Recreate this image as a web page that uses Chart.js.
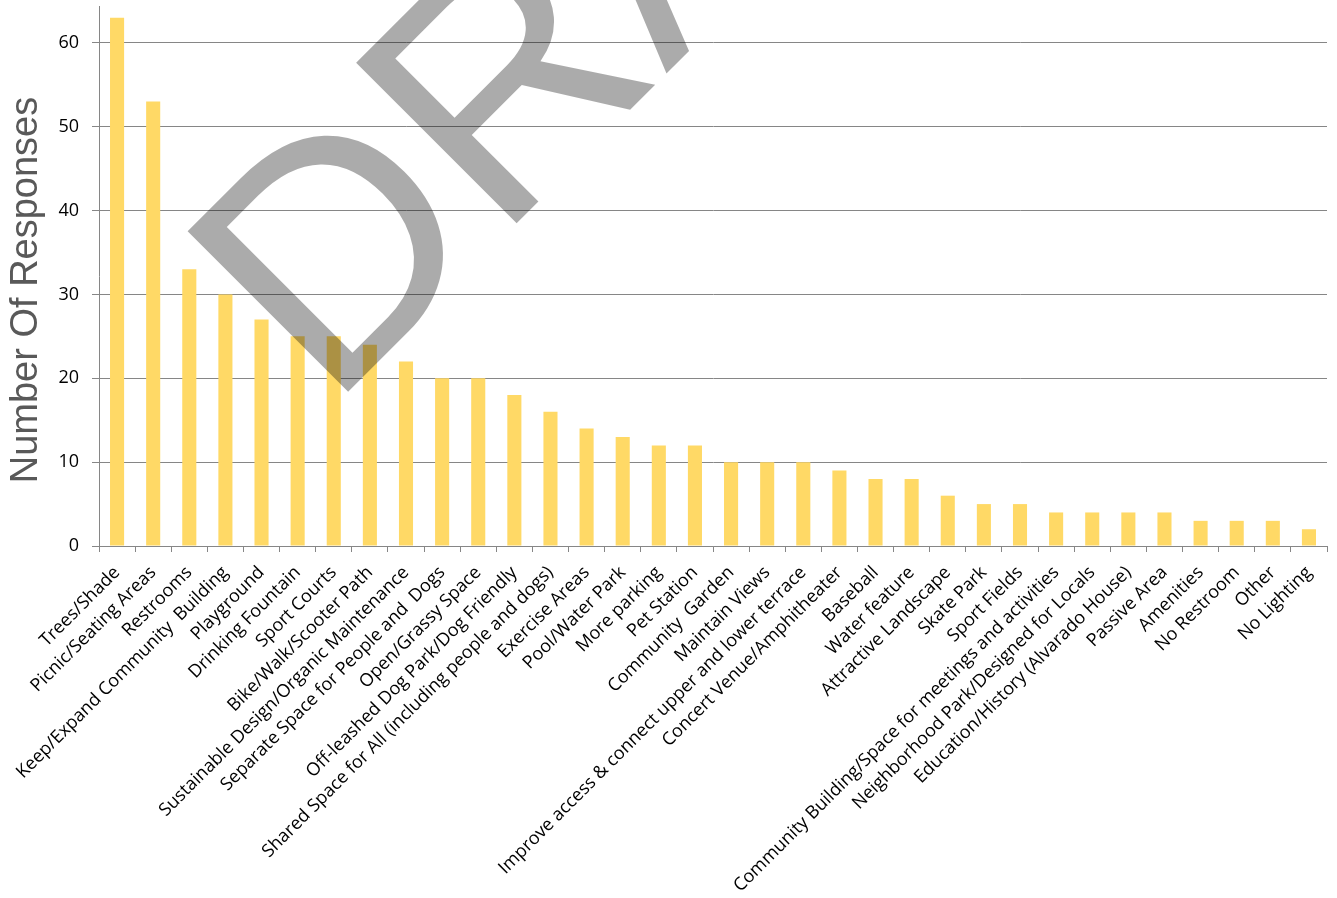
<!DOCTYPE html>
<html>
<head>
<meta charset="utf-8">
<title>Number Of Responses</title>
<script src="https://cdn.jsdelivr.net/npm/chart.js@4.4.1/dist/chart.umd.min.js"></script>
<style>
    body { margin: 0; background: #fff; }
    #wrap { width: 1337px; height: 898px; }
</style>
</head>
<body>
<div id="wrap"><canvas id="responseChart"></canvas></div>
<script>
// Survey categories, in ranked order
const categories = [
    'Trees/Shade',
    'Picnic/Seating Areas',
    'Restrooms',
    'Keep/Expand Community  Building',
    'Playground',
    'Drinking Fountain',
    'Sport Courts',
    'Bike/Walk/Scooter Path',
    'Sustainable Design/Organic Maintenance',
    'Separate Space for People and  Dogs',
    'Open/Grassy Space',
    'Off-leashed Dog Park/Dog Friendly',
    'Shared Space for All (including people and dogs)',
    'Exercise Areas',
    'Pool/Water Park',
    'More parking',
    'Pet Station',
    'Community  Garden',
    'Maintain Views',
    'Improve access & connect upper and lower terrace',
    'Concert Venue/Amphitheater',
    'Baseball',
    'Water feature',
    'Attractive Landscape',
    'Skate Park',
    'Sport Fields',
    'Community Building/Space for meetings and activities',
    'Neighborhood Park/Designed for Locals',
    'Education/History (Alvarado House)',
    'Passive Area',
    'Amenities',
    'No Restroom',
    'Other',
    'No Lighting'
];

// Number of responses per category
const responses = [63, 53, 33, 30, 27, 25, 25, 24, 22, 20, 20, 18, 16, 14, 13, 12, 12,
    10, 10, 10, 9, 8, 8, 6, 5, 5, 4, 4, 4, 4, 3, 3, 3, 2];

// Y axis ticks
const yTicks = [0, 10, 20, 30, 40, 50, 60];
const yMax = 64.4;
const yTitle = 'Number Of Responses';

const axisGrey = '#868686';

// Y axis title, sitting a little below the middle of the plot
const yAxisTitle = {
    id: 'yAxisTitle',
    afterDraw(chart) {
        const ctx = chart.ctx;
        const area = chart.chartArea;
        ctx.save();
        ctx.translate(27, (area.top + area.bottom) / 2 + 14);
        ctx.rotate(-Math.PI / 2);
        ctx.font = '38px "Liberation Sans", Arial, sans-serif';
        ctx.fillStyle = '#595959';
        ctx.textAlign = 'center';
        ctx.textBaseline = 'middle';
        ctx.fillText(yTitle, 0, 0);
        ctx.restore();
    }
};

// Big translucent "DRAFT" stamp drawn over the finished chart
const draftStamp = {
    id: 'draftStamp',
    afterDraw(chart) {
        const ctx = chart.ctx;
        ctx.save();
        ctx.translate(329, 411);
        ctx.rotate(-Math.PI / 4);
        ctx.font = '330px "Liberation Sans", Arial, sans-serif';
        ctx.fillStyle = 'rgba(0, 0, 0, 0.33)';
        ctx.textBaseline = 'alphabetic';
        ctx.textAlign = 'left';
        ctx.fillText('DRAFT', 0, 0);
        ctx.restore();
    }
};

new Chart(document.getElementById('responseChart'), {
    type: 'bar',
    data: {
        labels: categories,
        datasets: [{
            label: 'Responses',
            data: responses,
            backgroundColor: '#FFD966',
            borderWidth: 0,
            barPercentage: 0.39,
            categoryPercentage: 1.0
        }]
    },
    options: {
        responsive: true,
        maintainAspectRatio: false,
        animation: false,
        layout: { padding: { top: 6, right: 10, left: 0, bottom: 0 } },
        plugins: {
            legend: { display: false },
            tooltip: { enabled: false }
        },
        scales: {
            x: {
                grid: {
                    offset: true,
                    drawOnChartArea: false,
                    drawTicks: true,
                    tickLength: 6,
                    color: axisGrey
                },
                border: { color: axisGrey, width: 1 },
                ticks: {
                    autoSkip: false,
                    minRotation: 45,
                    maxRotation: 45,
                    padding: 10,
                    color: '#000',
                    font: { family: '"Open Sans", sans-serif', size: 18 }
                },
                afterFit(scale) {
                    scale.height = 352;
                    scale.paddingLeft = 0;
                    scale.paddingRight = 0;
                }
            },
            y: {
                min: 0,
                max: yMax,
                afterBuildTicks(scale) {
                    scale.ticks = yTicks.map(v => ({ value: v }));
                },
                grid: {
                    color: axisGrey,
                    lineWidth: 1,
                    tickLength: 7
                },
                border: { color: axisGrey, width: 1 },
                ticks: {
                    padding: 13,
                    color: '#000',
                    font: { family: '"Open Sans", sans-serif', size: 18 }
                },
                afterFit(scale) {
                    scale.width = 99;
                    scale.paddingTop = 0;
                    scale.paddingBottom = 0;
                }
            }
        }
    },
    plugins: [yAxisTitle, draftStamp]
});
</script>
</body>
</html>
